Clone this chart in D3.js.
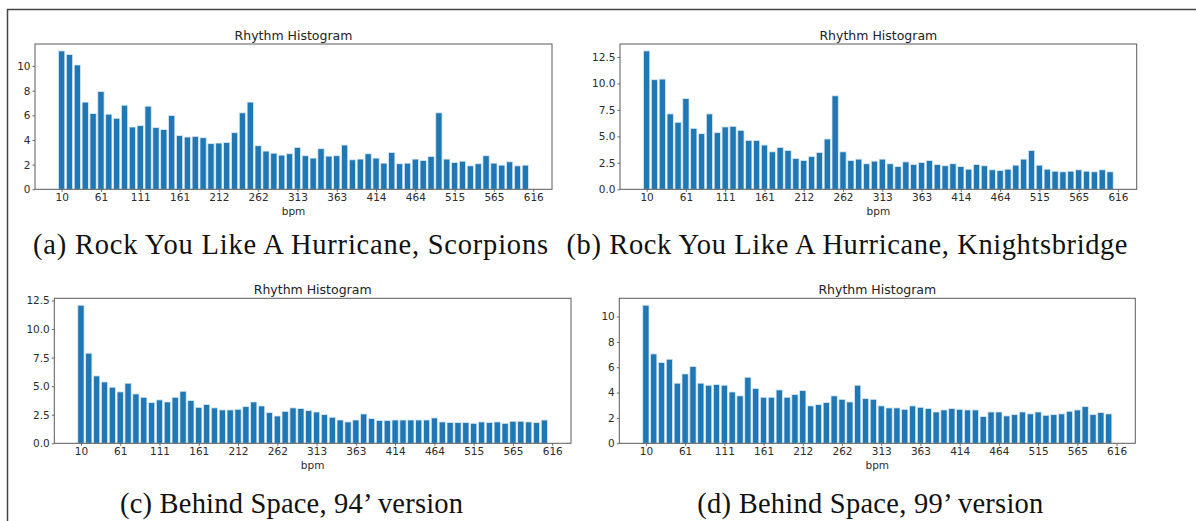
<!DOCTYPE html>
<html>
<head>
<meta charset="utf-8">
<script src="https://cdn.jsdelivr.net/npm/d3@7"></script>
<style>
	body { margin: 0; background: #fff; }
	svg { display: block; }
</style>
</head>
<body>
<div id="chart"></div>
<script>

// ******************Chart data**********************
const bpmLabels = ["10", "61", "111", "161", "212", "262", "313", "363", "414", "464", "515", "565", "616"]

const scorpions = [
	11.22, 10.92, 10.08, 7.07, 6.14, 7.93, 6.09, 5.76, 6.82, 5.05,
	5.16, 6.74, 5.00, 4.84, 5.98, 4.35, 4.24, 4.29, 4.18, 3.70,
	3.75, 3.80, 4.59, 6.20, 7.07, 3.53, 3.10, 2.93, 2.77, 2.88,
	3.40, 2.72, 2.53, 3.29, 2.69, 2.72, 3.59, 2.39, 2.45, 2.88,
	2.53, 2.12, 2.99, 2.07, 2.12, 2.45, 2.34, 2.66, 6.20, 2.45,
	2.17, 2.28, 1.90, 2.07, 2.72, 2.12, 1.96, 2.23, 1.90, 1.96
]

const knightsbridge = [
	13.07, 10.35, 10.41, 7.12, 6.33, 8.58, 5.76, 5.25, 7.12, 5.35,
	5.89, 5.95, 5.57, 4.62, 4.62, 4.18, 3.54, 3.96, 3.67, 2.91,
	2.72, 3.10, 3.48, 4.75, 8.83, 3.54, 2.72, 2.85, 2.41, 2.66,
	2.85, 2.41, 2.15, 2.59, 2.34, 2.53, 2.72, 2.34, 2.22, 2.41,
	2.15, 1.90, 2.34, 2.22, 1.84, 1.77, 1.90, 2.28, 2.85, 3.67,
	2.28, 1.90, 1.71, 1.65, 1.71, 1.84, 1.71, 1.65, 1.84, 1.65
]

const space94 = [
	12.09, 7.89, 5.90, 5.37, 4.91, 4.50, 5.26, 4.32, 4.03, 3.56,
	3.80, 3.62, 4.03, 4.56, 3.74, 3.15, 3.39, 3.10, 2.92, 2.92,
	2.98, 3.21, 3.62, 3.27, 2.69, 2.39, 2.80, 3.10, 3.04, 2.86,
	2.74, 2.51, 2.28, 2.04, 1.87, 2.04, 2.57, 2.16, 1.99, 1.99,
	2.04, 2.04, 2.04, 2.04, 2.04, 2.22, 1.87, 1.81, 1.81, 1.81,
	1.75, 1.87, 1.81, 1.87, 1.75, 1.93, 1.93, 1.87, 1.81, 2.04
]

const space99 = [
	10.89, 7.05, 6.37, 6.63, 4.74, 5.47, 6.05, 4.74, 4.58, 4.63,
	4.58, 4.05, 3.74, 5.21, 4.32, 3.63, 3.63, 4.21, 3.63, 3.84,
	4.16, 2.95, 3.05, 3.21, 3.74, 3.47, 3.26, 4.58, 3.53, 3.47,
	2.95, 2.79, 2.79, 2.68, 2.95, 2.84, 2.74, 2.47, 2.63, 2.74,
	2.68, 2.63, 2.63, 2.11, 2.47, 2.47, 2.16, 2.26, 2.47, 2.32,
	2.47, 2.21, 2.26, 2.32, 2.53, 2.63, 2.89, 2.26, 2.42, 2.32
]

const ticksEven = [0, 2, 4, 6, 8, 10]
const ticksHalf = [0, 2.5, 5, 7.5, 10, 12.5]

const captions = [
	"(a) Rock You Like A Hurricane, Scorpions",
	"(b) Rock You Like A Hurricane, Knightsbridge",
	"(c) Behind Space, 94\u2019 version",
	"(d) Behind Space, 99\u2019 version"
]

// ******************Layout**********************
const width = 1196
const height = 521

const svg = d3.select("#chart")
	.append("svg")
	.attr("width", width)
	.attr("height", height)
	.style("background-color", "#fff")

// page frame (top + left rule)
svg.append("line")
	.attr("x1", 7).attr("y1", 9.5).attr("x2", width).attr("y2", 9.5)
	.attr("stroke", "#444").attr("stroke-width", 1.5)
svg.append("line")
	.attr("x1", 7.5).attr("y1", 9).attr("x2", 7.5).attr("y2", height)
	.attr("stroke", "#444").attr("stroke-width", 1.5)

// ******************One histogram panel**********************
const drawPanel = (values, yTicks, fmt, left, right, top, bottom) => {

	const n = values.length
	// matplotlib bar(): width 0.8, 5% margins
	const pad = (n - 1 + 0.8) * 0.05
	const xScale = d3.scaleLinear()
		.domain([-0.4 - pad, n - 1 + 0.4 + pad])
		.range([left, right])

	const yScale = d3.scaleLinear()
		.domain([0, d3.max(values) * 1.05])
		.range([bottom, top])

	const g = svg.append("g")

	g.selectAll("rect.bar")
		.data(values)
		.enter()
		.append("rect")
		.attr("class", "bar")
		.attr("x", (d, i) => xScale(i - 0.4))
		.attr("width", (d, i) => xScale(i + 0.4) - xScale(i - 0.4))
		.attr("y", (d) => yScale(d))
		.attr("height", (d) => bottom - yScale(d))
		.attr("fill", "#1f77b4")
		.attr("stroke", "#dce9f4")
		.attr("stroke-width", 0.8)

	// x axis: one label every 5 bins
	const xAxis = d3.axisBottom(xScale)
		.tickValues(bpmLabels.map((l, i) => i * 5))
		.tickFormat((d, i) => bpmLabels[i])
		.tickSize(2.5)
		.tickPadding(2)

	g.append("g")
		.attr("transform", "translate(0, " + bottom + ")")
		.call(xAxis)

	const yAxis = d3.axisLeft(yScale)
		.tickValues(yTicks)
		.tickFormat(d3.format(fmt))
		.tickSize(2.5)
		.tickPadding(2)

	g.append("g")
		.attr("transform", "translate(" + left + ", 0)")
		.call(yAxis)

	g.selectAll(".domain").remove()
	g.selectAll(".tick line").attr("stroke", "#444").attr("stroke-width", 0.8)
	g.selectAll(".tick text")
		.attr("fill", "#2b2b2b")
		.style("font-family", "DejaVu Sans")
		.style("font-size", "10.5px")

	// frame
	g.append("rect")
		.attr("x", left)
		.attr("y", top)
		.attr("width", right - left)
		.attr("height", bottom - top)
		.attr("fill", "none")
		.attr("stroke", "#5a5a5a")
		.attr("stroke-width", 1)

	g.append("text")
		.attr("x", (left + right) / 2)
		.attr("y", top - 4)
		.attr("text-anchor", "middle")
		.attr("fill", "#222")
		.style("font-family", "DejaVu Sans")
		.style("font-size", "12.5px")
		.text("Rhythm Histogram")

	g.append("text")
		.attr("x", (left + right) / 2)
		.attr("y", bottom + 25.5)
		.attr("text-anchor", "middle")
		.attr("fill", "#2b2b2b")
		.style("font-family", "DejaVu Sans")
		.style("font-size", "10.5px")
		.text("bpm")
}

drawPanel(scorpions, ticksEven, "d", 35, 552, 44, 189.3)
drawPanel(knightsbridge, ticksHalf, ".1f", 620, 1136.7, 44, 189.3)
drawPanel(space94, ticksHalf, ".1f", 54.3, 571, 298.3, 443.3)
drawPanel(space99, ticksEven, "d", 619.3, 1135.3, 298.3, 443.3)

// ******************Captions**********************
const capX = [290.5, 847, 291.5, 870.3]
const capY = [254, 254, 513, 513]
const capW = [515, 561, 343, 346]

svg.selectAll("text.caption")
	.data(captions)
	.enter()
	.append("text")
	.attr("class", "caption")
	.attr("x", (d, i) => capX[i])
	.attr("y", (d, i) => capY[i])
	.attr("text-anchor", "middle")
	.attr("textLength", (d, i) => capW[i])
	.attr("lengthAdjust", "spacing")
	.attr("fill", "#111")
	.style("font-family", "'Liberation Serif', 'Times New Roman', serif")
	.style("font-size", "28.5px")
	.text((d) => d)

</script>
</body>
</html>
